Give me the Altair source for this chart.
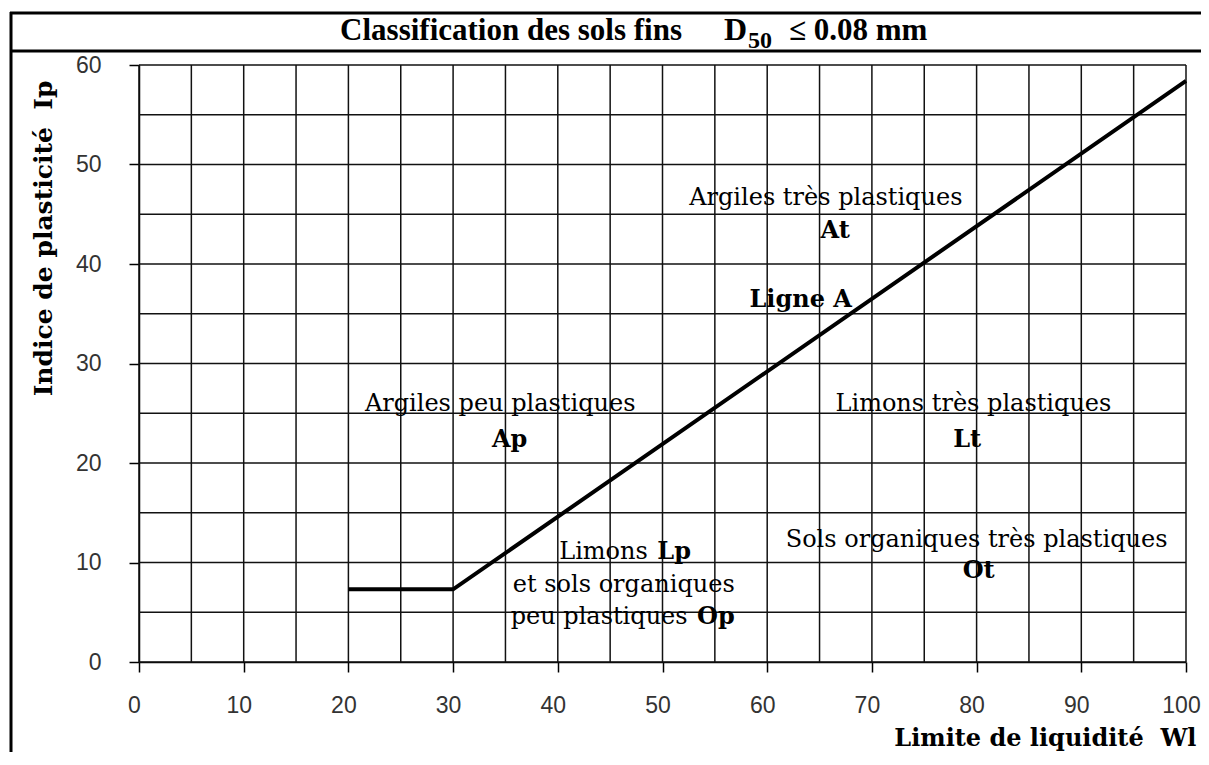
import altair as alt
import pandas as pd

# ---- data ----
line_wl = [20, 30, 100]
line_ip = [7.3, 7.3, 58.4]

grid_x = [0, 5, 10, 15, 20, 25, 30, 35, 40, 45, 50, 55, 60, 65, 70, 75, 80, 85, 90, 95, 100]
grid_y = [0, 5, 10, 15, 20, 25, 30, 35, 40, 45, 50, 55, 60]
x_ticks = [0, 10, 20, 30, 40, 50, 60, 70, 80, 90, 100]
y_ticks = [0, 10, 20, 30, 40, 50, 60]

ann_text = ["Argiles peu plastiques", "Ap", "Argiles très plastiques", "At", "Ligne A",
            "Limons très plastiques", "Lt", "Limons", "Lp", "et sols organiques",
            "peu plastiques", "Op", "Sols organiques très plastiques", "Ot"]
ann_x = [34.5, 35.4, 65.6, 66.5, 63.2, 79.7, 79.1, 48.6, 49.5, 46.3, 52.4, 53.3, 80.0, 80.2]
ann_y = [25.2, 21.6, 45.9, 42.6, 35.7, 25.2, 21.6, 10.35, 10.35, 7.0, 3.8, 3.8, 11.6, 8.4]
ann_style = ["nc", "bc", "nc", "bc", "bc", "nc", "bc", "nr", "bl", "nc", "nr", "bl", "nc", "bc"]

NB = "\u00a0"
x_title = "Limite de liquidité" + NB + NB + "Wl"
y_title = "Indice de plasticité" + NB + NB + "Ip"

W, H = 1047, 597
xs = alt.Scale(domain=[x_ticks[0], x_ticks[-1]], nice=False, zero=False)
ys = alt.Scale(domain=[y_ticks[0], y_ticks[-1]], nice=False, zero=False)

df_line = pd.DataFrame({"wl": line_wl, "ip": line_ip})
df_gx = pd.DataFrame({"g": grid_x, "a": y_ticks[0], "b": y_ticks[-1]})
df_gy = pd.DataFrame({"g": grid_y, "a": x_ticks[0], "b": x_ticks[-1]})
df_ann = pd.DataFrame({"t": ann_text, "x": ann_x, "y": ann_y, "s": ann_style})
one = pd.DataFrame({"k": [0]})

x_axis = alt.Axis(values=x_ticks, grid=False, tickSize=10, tickColor="black", tickWidth=1.5,
                  domainColor="black", domainWidth=1.5, labelFont="Liberation Sans",
                  labelFontSize=23, labelColor="#333", labelPadding=22, labelOffset=-5,
                  labelFlush=False, labelOverlap=False,
                  title=x_title, titleFont="DejaVu Serif",
                  titleFontWeight="bold", titleFontSize=24, titleColor="black",
                  titleX=1057, titleY=83, titleAlign="right", titleBaseline="alphabetic")
y_axis = alt.Axis(values=y_ticks, grid=False, tickSize=10, tickColor="black", tickWidth=1.5,
                  domainColor="black", domainWidth=1.5, labelFont="Liberation Sans",
                  labelFontSize=23, labelColor="#333", labelPadding=28,
                  labelFlush=False, labelOverlap=False,
                  title=y_title, titleFont="DejaVu Serif",
                  titleFontWeight="bold", titleFontSize=25, titleColor="black",
                  titleAngle=270, titleX=-96, titleY=15, titleAlign="right",
                  titleBaseline="middle")

vgrid = alt.Chart(df_gx).mark_rule(color="#111", strokeWidth=1.5).encode(
    x=alt.X("g:Q", scale=xs, axis=x_axis),
    y=alt.Y("a:Q", scale=ys, axis=y_axis),
    y2="b:Q",
)
hgrid = alt.Chart(df_gy).mark_rule(color="#111", strokeWidth=1.5).encode(
    y=alt.Y("g:Q", scale=ys, axis=y_axis),
    x=alt.X("a:Q", scale=xs, axis=x_axis),
    x2="b:Q",
)
line = alt.Chart(df_line).mark_line(color="black", strokeWidth=4).encode(
    x=alt.X("wl:Q", scale=xs, axis=x_axis),
    y=alt.Y("ip:Q", scale=ys, axis=y_axis),
)

styles = {
    "nc": dict(fontWeight="normal", align="center"),
    "bc": dict(fontWeight="bold", align="center"),
    "nr": dict(fontWeight="normal", align="right"),
    "bl": dict(fontWeight="bold", align="left"),
}
ann_layers = []
for key, st in styles.items():
    ann_layers.append(
        alt.Chart(df_ann[df_ann["s"] == key]).mark_text(
            font="DejaVu Serif", fontSize=24, baseline="alphabetic", color="black", **st
        ).encode(
            x=alt.X("x:Q", scale=xs, axis=x_axis),
            y=alt.Y("y:Q", scale=ys, axis=y_axis),
            text="t:N",
        )
    )

# title and frame (decoration outside the plot area)
def title_part(txt, x, y, size, align):
    return alt.Chart(one).mark_text(text=txt, font="Liberation Serif", fontWeight="bold",
                                    fontSize=size, align=align, baseline="alphabetic",
                                    color="black").encode(x=alt.value(x), y=alt.value(y))

t1 = title_part("Classification des sols fins", 543, -25, 31, "right")
t2 = title_part("D", 585, -25, 32, "left")
t3 = title_part("50", 609, -17, 24, "left")
t4 = title_part("≤ 0.08 mm", 650, -25, 31, "left")

frame_top = alt.Chart(one).mark_rule(color="black", strokeWidth=3).encode(
    x=alt.value(-129), x2=alt.value(1100), y=alt.value(-52))
frame_sep = alt.Chart(one).mark_rule(color="black", strokeWidth=3).encode(
    x=alt.value(-129), x2=alt.value(1100), y=alt.value(-14))
frame_left = alt.Chart(one).mark_rule(color="black", strokeWidth=3).encode(
    x=alt.value(-128), y=alt.value(-53), y2=alt.value(720))

chart = alt.layer(
    vgrid, hgrid, line, *ann_layers, t1, t2, t3, t4, frame_top, frame_sep, frame_left
).properties(
    width=W, height=H,
    padding={"left": 131, "top": 57, "right": 15, "bottom": 90},
    autosize=alt.AutoSizeParams(type="none"),
    background="white",
).configure_view(stroke=None)

chart.save("out.html", embed_options={"renderer": "svg", "actions": False})
